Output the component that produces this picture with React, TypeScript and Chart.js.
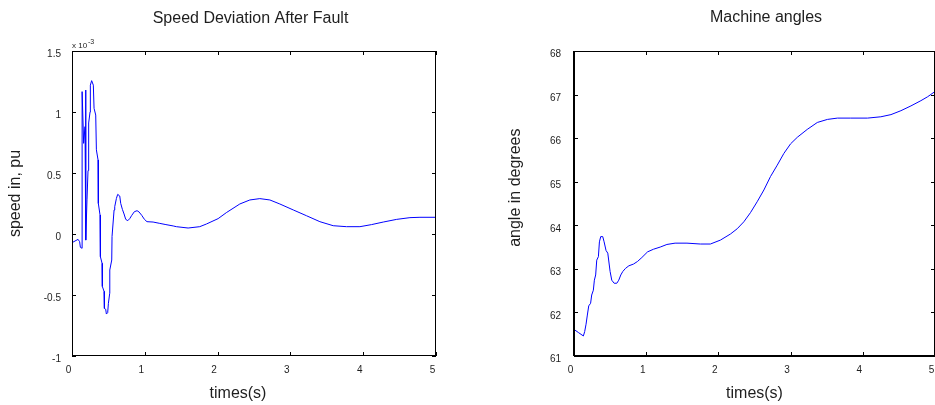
import React, { useEffect, useRef } from "react";
import { Chart, registerables } from "chart.js";

Chart.register(...registerables);

// ---- data ----
const timeTicks = [0, 1, 2, 3, 4, 5];
const speedTicks = [-1, -0.5, 0, 0.5, 1, 1.5];
const angleTicks = [61, 62, 63, 64, 65, 66, 67, 68];

// speed deviation (units of 1e-3 pu)
const speedTimes = [
  0, 0.083, 0.105, 0.115, 0.138, 0.139, 0.16, 0.179, 0.188, 0.19, 0.206, 0.22, 0.229, 0.248, 0.252,
  0.27, 0.293, 0.303, 0.326, 0.335, 0.358, 0.362, 0.385, 0.39, 0.413, 0.417, 0.44, 0.445, 0.463,
  0.472, 0.49, 0.5, 0.518, 0.519, 0.546, 0.55, 0.578, 0.587, 0.61, 0.628, 0.656, 0.669, 0.692,
  0.715, 0.738, 0.766, 0.793, 0.821, 0.857, 0.894, 0.922, 0.958, 0.995, 1.03, 1.114, 1.206, 1.29,
  1.39, 1.434, 1.595, 1.755, 1.847, 2.007, 2.12, 2.305, 2.443, 2.58, 2.718, 2.855, 3.04, 3.22,
  3.405, 3.588, 3.77, 3.955, 4.115, 4.276, 4.46, 4.642, 4.78, 5.0,
];
const speedValues = [
  -0.071, -0.044, -0.063, -0.109, -0.117, 1.167, 0.743, 0.88, 1.18, -0.05, 0.28, 0.52, 0.91, 1.0,
  1.22, 1.257, 1.22, 1.03, 0.975, 0.69, 0.607, 0.25, 0.156, -0.186, -0.24, -0.43, -0.47, -0.61,
  -0.617, -0.656, -0.645, -0.568, -0.486, -0.295, -0.213, -0.02, 0.197, 0.224, 0.292, 0.325,
  0.311, 0.251, 0.202, 0.164, 0.12, 0.109, 0.126, 0.153, 0.183, 0.191, 0.18, 0.153, 0.12, 0.101,
  0.098, 0.087, 0.077, 0.066, 0.06, 0.049, 0.06, 0.082, 0.126, 0.175, 0.246, 0.279, 0.29, 0.279,
  0.246, 0.197, 0.15, 0.101, 0.068, 0.06, 0.06, 0.077, 0.098, 0.12, 0.134, 0.137, 0.137,
];

// machine angle (degrees)
const angleTimes = [
  0, 0.06, 0.13, 0.148, 0.167, 0.185, 0.204, 0.23, 0.245, 0.268, 0.282, 0.3, 0.315, 0.338, 0.352,
  0.37, 0.398, 0.417, 0.444, 0.468, 0.5, 0.523, 0.556, 0.593, 0.62, 0.648, 0.676, 0.713, 0.76,
  0.824, 0.88, 0.94, 1.019, 1.1, 1.194, 1.287, 1.4, 1.565, 1.75, 1.889, 2.028, 2.167, 2.26, 2.352,
  2.444, 2.537, 2.63, 2.722, 2.815, 2.907, 3.0, 3.093, 3.23, 3.37, 3.51, 3.648, 3.833, 4.065,
  4.25, 4.39, 4.528, 4.667, 4.805, 4.898, 5.0,
];
const angleValues = [
  61.61, 61.54, 61.46, 61.56, 61.73, 61.94, 62.15, 62.21, 62.4, 62.51, 62.74, 62.86, 63.2, 63.28,
  63.62, 63.74, 63.74, 63.62, 63.42, 63.36, 62.94, 62.74, 62.67, 62.67, 62.74, 62.86, 62.94,
  63.01, 63.07, 63.11, 63.17, 63.26, 63.39, 63.45, 63.5, 63.56, 63.59, 63.59, 63.57, 63.57,
  63.66, 63.8, 63.92, 64.08, 64.29, 64.54, 64.81, 65.12, 65.38, 65.65, 65.87, 66.02, 66.2, 66.36,
  66.43, 66.46, 66.46, 66.46, 66.49, 66.54, 66.63, 66.74, 66.86, 66.95, 67.07,
];

const FONT = '"Liberation Sans", Arial, Helvetica, sans-serif';
const TEXT = "#1e1e1e";
const LINE = "#0000ff";

const frameAndLabels = {
  id: "frameAndLabels",
  afterDraw(chart: any, _args: any, o: any) {
    const { ctx, chartArea: a } = chart;
    const xs = chart.scales.x;
    const ys = chart.scales.y;
    ctx.save();
    ctx.strokeStyle = "#000";
    ctx.lineWidth = 1;
    ctx.beginPath();
    xs.ticks.forEach((t: any) => {
      const px = Math.round(xs.getPixelForValue(t.value)) + 0.5;
      ctx.moveTo(px, a.bottom);
      ctx.lineTo(px, a.bottom - 4);
      ctx.moveTo(px, a.top);
      ctx.lineTo(px, a.top + 4);
    });
    ys.ticks.forEach((t: any) => {
      const py = Math.round(ys.getPixelForValue(t.value)) + 0.5;
      ctx.moveTo(a.left, py);
      ctx.lineTo(a.left + 4, py);
      ctx.moveTo(a.right, py);
      ctx.lineTo(a.right - 4, py);
    });
    ctx.stroke();
    // frame: top & right thin
    ctx.beginPath();
    ctx.moveTo(a.left, a.top + 0.5);
    ctx.lineTo(a.right, a.top + 0.5);
    ctx.moveTo(a.right - 0.5, a.top);
    ctx.lineTo(a.right - 0.5, a.bottom);
    ctx.stroke();
    // left & bottom
    const w = o.axisWidth;
    const off = w % 2 === 1 ? 0.5 : 0;
    ctx.lineWidth = w;
    ctx.beginPath();
    ctx.moveTo(a.left + off, a.top);
    ctx.lineTo(a.left + off, a.bottom);
    ctx.moveTo(a.left, a.bottom - off);
    ctx.lineTo(a.right, a.bottom - off);
    ctx.stroke();

    // texts
    const cx = (a.left + a.right) / 2;
    const cy = (a.top + a.bottom) / 2;
    ctx.fillStyle = TEXT;
    ctx.font = `16px ${FONT}`;
    ctx.textAlign = "center";
    ctx.textBaseline = "middle";
    ctx.fillText(o.title, cx + o.titleDx, o.titleY);
    ctx.fillText(o.xlabel, cx + o.xlabelDx, o.xlabelY);
    ctx.save();
    ctx.translate(o.ylabelX, cy + o.ylabelDy);
    ctx.rotate(-Math.PI / 2);
    ctx.fillText(o.ylabel, 0, 0);
    ctx.restore();

    if (o.exponent) {
      ctx.textAlign = "left";
      ctx.textBaseline = "alphabetic";
      ctx.font = `8px ${FONT}`;
      const base = "x 10";
      ctx.fillText(base, a.left, a.top - 3.3);
      const w2 = ctx.measureText(base).width;
      ctx.font = `7px ${FONT}`;
      ctx.fillText(o.exponent, a.left + w2 + 0.8, a.top - 7.5);
    }
    ctx.restore();
  },
};

type PanelSpec = {
  times: number[];
  values: number[];
  yTicks: number[];
  yAxisWidth: number;
  padRight: number;
  yLabelPad: number;
  deco: any;
};

function makeConfig(p: PanelSpec): any {
  const tickFont = { size: 10, family: FONT };
  return {
    type: "line",
    data: {
      datasets: [
        {
          data: p.times.map((t, i) => ({ x: t, y: p.values[i] })),
          borderColor: LINE,
          borderWidth: 1,
          pointRadius: 0,
          tension: 0,
          fill: false,
        },
      ],
    },
    options: {
      responsive: false,
      animation: false,
      events: [],
      layout: { padding: { left: 0, top: 51, right: p.padRight, bottom: 0 } },
      plugins: {
        legend: { display: false },
        tooltip: { enabled: false },
        title: { display: false },
        frameAndLabels: p.deco,
      },
      scales: {
        x: {
          type: "linear",
          min: timeTicks[0],
          max: timeTicks[timeTicks.length - 1],
          afterBuildTicks: (s: any) => {
            s.ticks = timeTicks.map((v) => ({ value: v }));
          },
          afterFit: (s: any) => {
            s.height = 49;
          },
          ticks: {
            callback: (v: any) => String(v),
            font: tickFont,
            color: TEXT,
            padding: 8.5,
            labelOffset: -3.5,
            maxRotation: 0,
            autoSkip: false,
          },
          grid: { display: false, drawTicks: false },
          border: { display: false },
        },
        y: {
          type: "linear",
          min: p.yTicks[0],
          max: p.yTicks[p.yTicks.length - 1],
          afterBuildTicks: (s: any) => {
            s.ticks = p.yTicks.map((v) => ({ value: v }));
          },
          afterFit: (s: any) => {
            s.width = p.yAxisWidth;
          },
          ticks: {
            callback: (v: any) => String(v),
            font: tickFont,
            color: TEXT,
            padding: p.yLabelPad,
            labelOffset: 3.5,
            autoSkip: false,
          },
          grid: { display: false, drawTicks: false },
          border: { display: false },
        },
      },
    },
    plugins: [frameAndLabels],
  };
}

function Panel({ spec, left, width }: { spec: PanelSpec; left: number; width: number }) {
  const ref = useRef<HTMLCanvasElement>(null);
  useEffect(() => {
    const chart = new Chart(ref.current as HTMLCanvasElement, makeConfig(spec));
    return () => chart.destroy();
  }, []);
  return (
    <canvas
      ref={ref}
      width={width}
      height={405}
      style={{ position: "absolute", left, top: 0, width, height: 405 }}
    />
  );
}

const speedSpec: PanelSpec = {
  times: speedTimes,
  values: speedValues,
  yTicks: speedTicks,
  yAxisWidth: 72,
  padRight: 31,
  yLabelPad: 11,
  deco: {
    title: "Speed Deviation After Fault",
    titleDx: -3.5,
    titleY: 18.5,
    xlabel: "times(s)",
    xlabelDx: -16,
    xlabelY: 394,
    ylabel: "speed in, pu",
    ylabelX: 16,
    ylabelDy: -10,
    exponent: "-3",
    axisWidth: 1,
  },
};

const angleSpec: PanelSpec = {
  times: angleTimes,
  values: angleValues,
  yTicks: angleTicks,
  yAxisWidth: 107,
  padRight: 65,
  yLabelPad: 13,
  deco: {
    title: "Machine angles",
    titleDx: 11.5,
    titleY: 18,
    xlabel: "times(s)",
    xlabelDx: 0,
    xlabelY: 394,
    ylabel: "angle in degrees",
    ylabelX: 49,
    ylabelDy: -15.8,
    exponent: "",
    axisWidth: 2,
  },
};

export default function App() {
  return (
    <div
      style={{
        position: "fixed",
        left: 0,
        top: 0,
        width: 935,
        height: 405,
        overflow: "hidden",
        background: "#fff",
      }}
    >
      <Panel spec={speedSpec} left={0} width={467} />
      <Panel spec={angleSpec} left={467} width={533} />
    </div>
  );
}
